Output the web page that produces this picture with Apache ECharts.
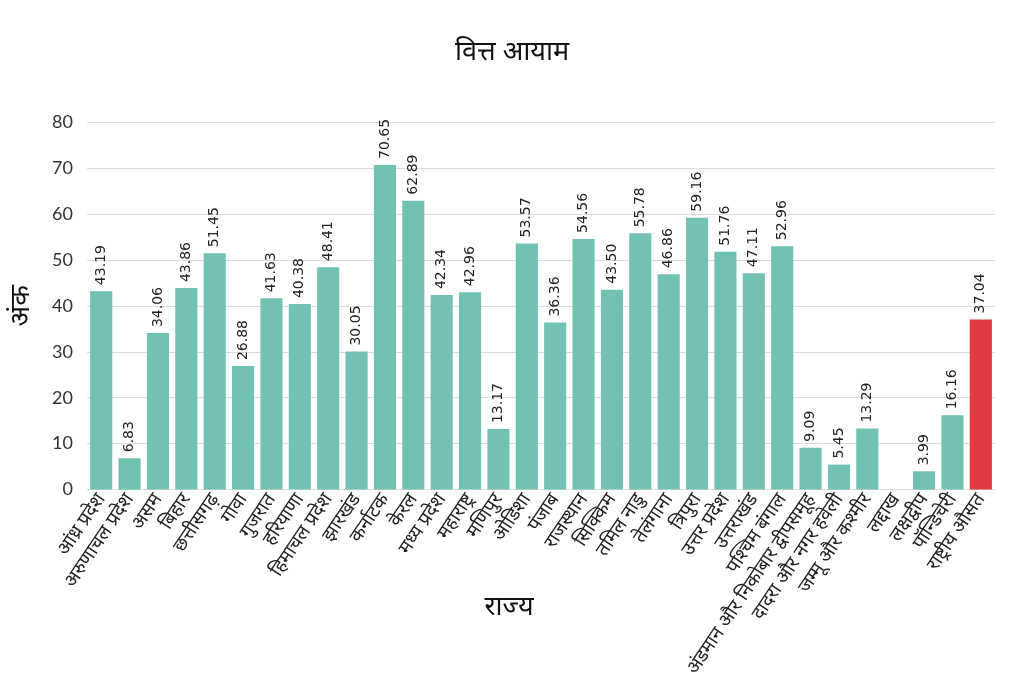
<!DOCTYPE html>
<html>
<head>
<meta charset="utf-8">
<script src="https://cdn.jsdelivr.net/npm/echarts@6/dist/echarts.min.js"></script>
<style>
  html, body { margin: 0; padding: 0; background: #fff; }
  #chart { width: 1024px; height: 680px; }
</style>
</head>
<body>
<div id="chart"></div>
<script>
// राज्य (x-axis categories)
var states = ['आंध्र प्रदेश', 'अरुणाचल प्रदेश', 'असम', 'बिहार', 'छत्तीसगढ़', 'गोवा', 'गुजरात',
  'हरियाणा', 'हिमाचल प्रदेश', 'झारखंड', 'कर्नाटक', 'केरल', 'मध्य प्रदेश', 'महाराष्ट्र',
  'मणिपुर', 'ओडिशा', 'पंजाब', 'राजस्थान', 'सिक्किम', 'तमिल नाडु', 'तेलंगाना', 'त्रिपुरा',
  'उत्तर प्रदेश', 'उत्तराखंड', 'पश्चिम बंगाल', 'अंडमान और निकोबार द्वीपसमूह',
  'दादरा और नगर हवेली', 'जम्मू और कश्मीर', 'लद्दाख', 'लक्षद्वीप', 'पॉन्डिचेरी', 'राष्ट्रीय औसत'];

// अंक (scores), लद्दाख has no value
var scores = [43.19, 6.83, 34.06, 43.86, 51.45, 26.88, 41.63, 40.38, 48.41, 30.05, 70.65, 62.89,
  42.34, 42.96, 13.17, 53.57, 36.36, 54.56, 43.50, 55.78, 46.86, 59.16, 51.76, 47.11, 52.96,
  9.09, 5.45, 13.29, null, 3.99, 16.16, 37.04];

var yTicks = [0, 10, 20, 30, 40, 50, 60, 70, 80];

var barData = scores.map(function (v, i) {
  if (v === null) return '-';
  var isAvg = states[i] === 'राष्ट्रीय औसत';
  return { value: v, itemStyle: { color: isAvg ? '#e0393e' : '#72c1b5' } };
});

var chart = echarts.init(document.getElementById('chart'));
chart.setOption({
  animation: false,
  textStyle: { fontFamily: 'Noto Sans, DejaVu Sans, sans-serif' },
  title: {
    text: 'वित्त आयाम',
    left: 'center',
    top: 34,
    textStyle: { fontSize: 27, fontWeight: 'normal', color: '#111' }
  },
  grid: { left: 85, right: 29, top: 122, bottom: 190 },
  xAxis: {
    type: 'category',
    data: states,
    name: 'राज्य',
    nameLocation: 'middle',
    nameGap: 104,
    nameMoveOverlap: false,
    nameTextStyle: { fontSize: 27, color: '#111', padding: [0, 64, 0, 0] },
    axisTick: { show: false },
    axisLine: { lineStyle: { color: '#ddd' } },
    axisLabel: { interval: 0, rotate: 56, fontSize: 19, color: '#222', margin: 6 }
  },
  yAxis: {
    type: 'value',
    min: yTicks[0],
    max: yTicks[yTicks.length - 1],
    interval: 10,
    name: 'अंक',
    nameLocation: 'middle',
    nameGap: 52,
    nameTextStyle: { fontSize: 27, color: '#111' },
    axisLine: { show: false },
    axisTick: { show: false },
    axisLabel: { fontSize: 18, color: '#333', margin: 14, fontFamily: 'Lato, sans-serif' },
    splitLine: { lineStyle: { color: '#dcdcdc' } }
  },
  series: [{
    type: 'bar',
    data: barData,
    barCategoryGap: '22%',
    label: {
      show: true,
      position: 'top',
      rotate: 90,
      align: 'left',
      verticalAlign: 'middle',
      distance: 6,
      fontSize: 14,
      color: '#222',
      fontFamily: 'DejaVu Sans, sans-serif',
      formatter: function (p) { return p.value.toFixed(2); }
    }
  }]
});
</script>
</body>
</html>
